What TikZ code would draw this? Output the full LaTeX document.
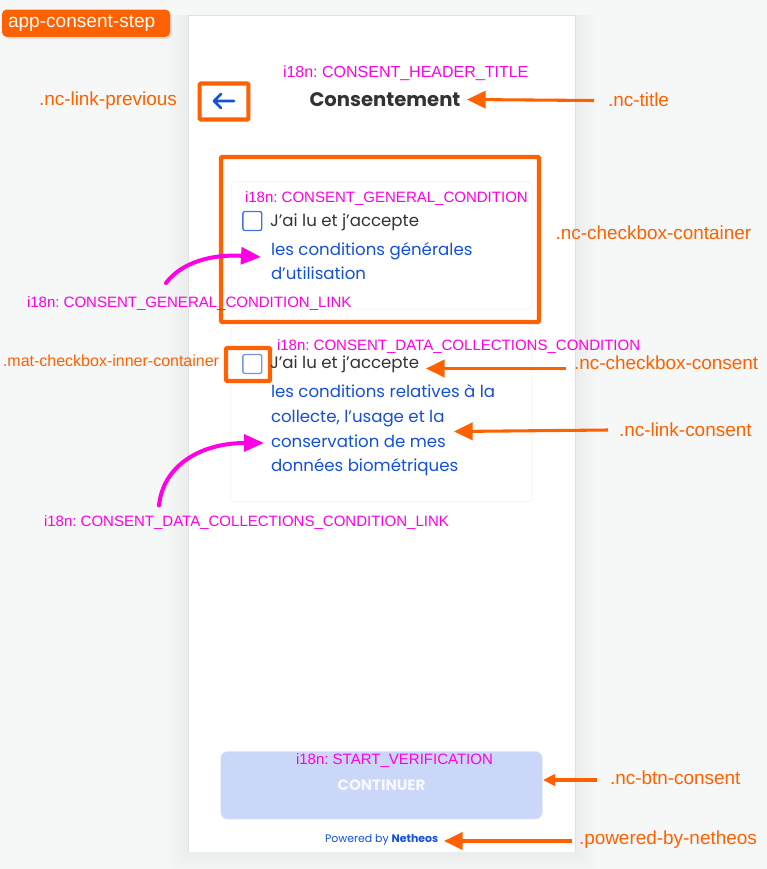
\documentclass[tikz,border=0pt]{standalone}
\usepackage{fontspec}
\setmainfont{Liberation Sans}
\newfontfamily\uifont{Poppins}
\usetikzlibrary{arrows.meta}
\definecolor{nc}{HTML}{FF6000}
\definecolor{mg}{HTML}{FF00E6}
\definecolor{bl}{HTML}{1450D8}
\definecolor{bgc}{HTML}{F6F8F7}
\definecolor{dk}{HTML}{333333}
\definecolor{btnc}{HTML}{CAD7F8}
\definecolor{cardc}{HTML}{F1F3FA}
\tikzset{
 x=0.75pt,y=-0.75pt,
 every node/.style={inner sep=0pt,outer sep=0pt},
 orlabel/.style={text=nc,font=\fontsize{14.2}{16}\selectfont,anchor=base west},
 mglabel/.style={text=mg,font=\frenchspacing\fontsize{11.26}{14}\selectfont,anchor=base west},
 uitext/.style={font=\uifont\fontsize{12.45}{15}\selectfont,anchor=base west},
 frame/.style={draw=nc,line width=3.1pt,rounded corners=0.8pt},
 orarrow/.style={draw=nc,line width=2.3pt,-{Triangle[length=14pt,width=13pt]}},
 mgarrow/.style={draw=mg,line width=3pt,line cap=round,-{Triangle[length=15pt,width=12.5pt]}},
 cbox/.style={draw=#1,line width=1pt,rounded corners=1.5pt,minimum size=14.2pt},
 card/.style={draw=cardc,line width=0.6pt,rounded corners=3pt},
}
\begin{document}
\begin{tikzpicture}
\useasboundingbox (0,0) rectangle (767,869);
\fill[bgc] (0,0) rectangle (767,869);
% panel shadow
\foreach \d in {20,16,12,8,4}{
  \fill[black,opacity=0.006] (188-\d,15) rectangle (575+\d,852+\d);
}
\fill[white] (188,15) rectangle (575,852);
\draw[black!12,line width=0.6pt] (188,852) -- (188,15) -- (575,15) -- (575,852);
% cards
\draw[card] (231,182) rectangle (532,309);
\draw[card] (231,327) rectangle (532,502);
% title block
\node[mglabel,font=\frenchspacing\fontsize{12}{14}\selectfont] (hdr) at (283,77) {i18n: CONSENT\_HEADER\_TITLE};
\node[font=\uifont\bfseries\fontsize{14.7}{16}\selectfont,text=dk,anchor=base] (title) at (385,106) {Consentement};
\node[frame,minimum width=36.5pt,minimum height=27pt] (prevbox) at (224,101.5) {};
\coordinate (pr) at (234,101); \coordinate (pl) at (214,101);
\draw[bl,line width=1.9pt,line cap=round,line join=round] (pr) -- (pl) ++(7,-7) -- (pl) -- ++(7,7);
\node[orlabel] (prevlab) at (39,105.5) {.nc-link-previous};
% general
\node[frame,minimum width=238.5pt,minimum height=123.75pt] (contbox) at (380,239.5) {};
\node[mglabel] (gencond) at (245,202) {i18n: CONSENT\_GENERAL\_CONDITION};
\node[cbox=bl!80,anchor=center] (cb1) at (252.3,221) {};
\node[uitext,text=dk] (acc1) at (270,226.5) {J’ai lu et j’accepte};
\node[uitext,text=bl] (link1a) at (271,255) {les conditions générales};
\node[uitext,text=bl] (link1b) at (271,279) {d’utilisation};
\node[mglabel] (genlink) at (27,307) {i18n: CONSENT\_GENERAL\_CONDITION\_LINK};
\node[orlabel] (contlab) at (555.5,239.5) {.nc-checkbox-container};
\coordinate (g1) at (166,283);
\coordinate (g2) at (261,257);
\draw[mgarrow] (g1) .. controls (182,262) and (212,254) .. (g2);
% data
\node[mglabel] (datacond) at (277,350) {i18n: CONSENT\_DATA\_COLLECTIONS\_CONDITION};
\node[text=nc,font=\fontsize{12}{14}\selectfont,anchor=base west] (matlab) at (3,366) {.mat-checkbox-inner-container};
\node[cbox=bl!60,anchor=center] (cb2) at (252.3,364) {};
\node[frame,minimum width=33pt,minimum height=24.75pt] (matbox) at (248,364.5) {};
\node[uitext,text=dk] (acc2) at (270,368.5) {J’ai lu et j’accepte};
\node[uitext,text=bl] (l2a) at (271,397.7) {les conditions relatives à la};
\node[uitext,text=bl] (l2b) at (271,422.7) {collecte, l’usage et la};
\node[uitext,text=bl] (l2c) at (271,447.7) {conservation de mes};
\node[uitext,text=bl] (l2d) at (271,471.7) {données biométriques};
\node[orlabel] (cblab) at (574,369) {.nc-checkbox-consent};
\node[orlabel] (linklab) at (619,436) {.nc-link-consent};
\node[mglabel] (datalink) at (44,526) {i18n: CONSENT\_DATA\_COLLECTIONS\_CONDITION\_LINK};
\coordinate (d1) at (159,505.5);
\coordinate (d2) at (264,443);
\draw[mgarrow] (d1) .. controls (163,466) and (200,443) .. (d2);
% button
\node[fill=btnc,draw=btnc!70!white,line width=0.5pt,rounded corners=5pt,minimum width=241pt,minimum height=50.5pt] (btn) at (381.5,785.3) {};
\node[font=\uifont\bfseries\fontsize{11.3}{14}\selectfont,text=white!85!btnc,anchor=base] (cont) at (381.5,790.7) {CONTINUER};
\node[mglabel] (start) at (296,764.3) {i18n: START\_VERIFICATION};
\node[orlabel] (btnlab) at (610,784) {.nc-btn-consent};
\node[anchor=base west,text=bl,font=\uifont\fontsize{8.2}{10}\selectfont] (pow) at (325,842.7) {Powered by {\bfseries Netheos}};
\node[orlabel] (powlab) at (579,844) {.powered-by-netheos};
\node[orlabel] (titlelab) at (608,106.5) {.nc-title};
% app tag
\fill[black,opacity=0.10,rounded corners=4pt] (4,12) rectangle (172,39);
\node[fill=nc,rounded corners=3.5pt,minimum width=126pt,minimum height=20.5pt,anchor=north west] (app) at (2,9.5) {};
\node[anchor=base west,text=white,font=\fontsize{14.3}{16}\selectfont] (applab) at (8,27.5) {app-consent-step};
% orange arrows
\coordinate (t1) at (594,100.5); \coordinate (t2) at (467,99.5);
\draw[orarrow] (t1) -- (t2);
\coordinate (c1) at (566,368.5); \coordinate (c2) at (426,368.5);
\draw[orarrow] (c1) -- (c2);
\coordinate (k1) at (608,430); \coordinate (k2) at (454,431.5);
\draw[orarrow] (k1) -- (k2);
\coordinate (b1) at (597,780); \coordinate (b2) at (543,780);
\draw[draw=nc,line width=2.3pt,-{Triangle[length=9pt,width=8.5pt]}] (b1) -- (b2);
\coordinate (n1) at (572,841); \coordinate (n2) at (444,841);
\draw[orarrow] (n1) -- (n2);
\end{tikzpicture}
\end{document}
